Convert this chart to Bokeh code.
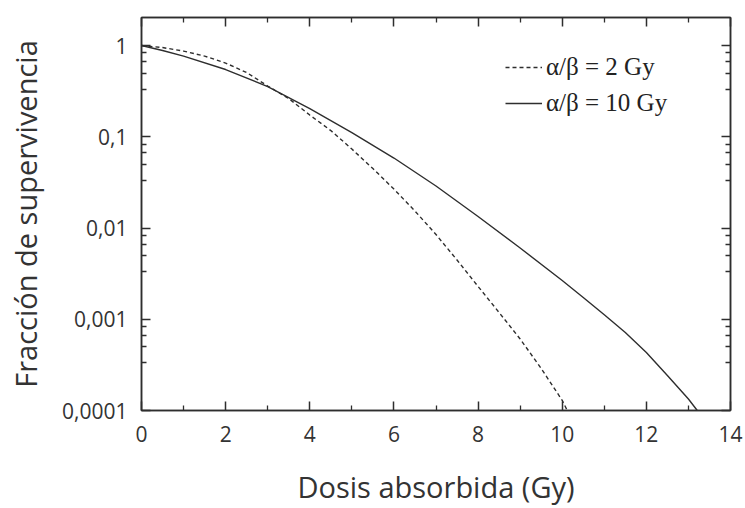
from bokeh.plotting import figure
from bokeh.models import (FixedTicker, LinearAxis, LogAxis, Legend, LegendItem,
                          CustomJSTickFormatter)
from bokeh.embed import file_html
from bokeh.resources import INLINE

# --- data ---
dose_ab2 = [0, 0.5, 1, 1.5, 2, 2.5, 3, 3.5, 4, 4.5, 5, 5.5, 6, 6.5, 7, 7.5, 8, 8.5, 9, 9.5, 10, 10.12]
surv_ab2 = [1.0, 0.951, 0.870, 0.767, 0.643, 0.506, 0.360, 0.2625, 0.173, 0.117, 0.0734, 0.0449,
            0.0267, 0.01535, 0.00849, 0.00446, 0.00229, 0.001186, 0.000608, 0.000289, 0.000129, 0.0001]

dose_ab10 = [0, 0.5, 1, 2, 3, 4, 5, 6, 7, 8, 9, 10, 10.5, 11, 11.5, 12, 12.5, 13, 13.21]
surv_ab10 = [1.0, 0.882, 0.767, 0.546, 0.355, 0.204, 0.1113, 0.0585, 0.02886, 0.01336, 0.00604,
             0.00266, 0.00173, 0.00112, 0.000716, 0.000433, 0.000242, 0.0001336, 0.0001]

x_major = [0, 2, 4, 6, 8, 10, 12, 14]
x_minor = [1, 3, 5, 7, 9, 11, 13]
y_major = [0.0001, 0.001, 0.01, 0.1, 1]
y_labels = ["0,0001", "0,001", "0,01", "0,1", "1"]
y_minor_mantissa = [0.3333, 0.5, 0.6667, 0.8333]
y_minor = [m * d for d in [0.001, 0.01, 0.1, 1, 10] for m in y_minor_mantissa]

legend_labels = ["α/β = 2 Gy", "α/β = 10 Gy"]

INK = "#2e2e2e"
FONT = "Open Sans"

p = figure(width=745, height=508, y_axis_type="log",
           x_range=(0, 14), y_range=(1e-4, 2.03),
           output_backend="svg", toolbar_location=None,
           min_border_left=141, min_border_right=15,
           min_border_top=17, min_border_bottom=98)
p.grid.visible = False
p.outline_line_color = INK
p.outline_line_width = 1.5
p.background_fill_color = "white"
p.border_fill_color = "white"

r_dash = p.line(dose_ab2, surv_ab2, line_color=INK, line_width=1.4, line_dash="4 3")
r_solid = p.line(dose_ab10, surv_ab10, line_color=INK, line_width=1.4)

xt = FixedTicker(ticks=x_major, minor_ticks=x_minor)
yt = FixedTicker(ticks=y_major, minor_ticks=y_minor)

def style(ax):
    ax.axis_line_color = INK
    ax.axis_line_width = 1.5
    ax.major_tick_line_color = INK
    ax.minor_tick_line_color = INK
    ax.major_tick_line_width = 1.5
    ax.minor_tick_line_width = 1.3
    ax.major_tick_in = 9
    ax.major_tick_out = 0
    ax.minor_tick_in = 5
    ax.minor_tick_out = 0
    ax.major_label_text_font = FONT
    ax.major_label_text_color = "#333333"
    ax.axis_label_text_font = FONT
    ax.axis_label_text_font_style = "normal"
    ax.axis_label_text_color = "#333333"

xa = p.xaxis[0]
xa.ticker = xt
style(xa)
xa.major_label_text_font_size = "21px"
xa.major_label_standoff = 15
xa.axis_label = "Dosis absorbida (Gy)"
xa.axis_label_text_font_size = "29px"
xa.axis_label_standoff = 22

ya = p.yaxis[0]
ya.ticker = yt
style(ya)
ya.major_label_overrides = {v: s for v, s in zip(y_major, y_labels)}
ya.major_label_text_font_size = "21px"
ya.major_label_standoff = 14
ya.axis_label = "Fracción de supervivencia"
ya.axis_label_text_font_size = "29px"
ya.axis_label_standoff = 14

blank = CustomJSTickFormatter(code="return ''")
top = LinearAxis(ticker=xt, formatter=blank)
style(top)
p.add_layout(top, "above")
right = LogAxis(ticker=yt, formatter=blank)
style(right)
p.add_layout(right, "right")

legend = Legend(items=[LegendItem(label=legend_labels[0], renderers=[r_dash]),
                       LegendItem(label=legend_labels[1], renderers=[r_solid])],
                location=(364, 293))
legend.background_fill_alpha = 0
legend.border_line_alpha = 0
legend.padding = 0
legend.margin = 0
legend.glyph_width = 37
legend.glyph_height = 20
legend.label_height = 20
legend.label_standoff = 4
legend.spacing = 8
legend.label_text_font = "Liberation Serif"
legend.label_text_font_size = "25px"
legend.label_text_color = "#222222"
p.add_layout(legend)

open("out.html", "w").write(file_html(p, INLINE))
